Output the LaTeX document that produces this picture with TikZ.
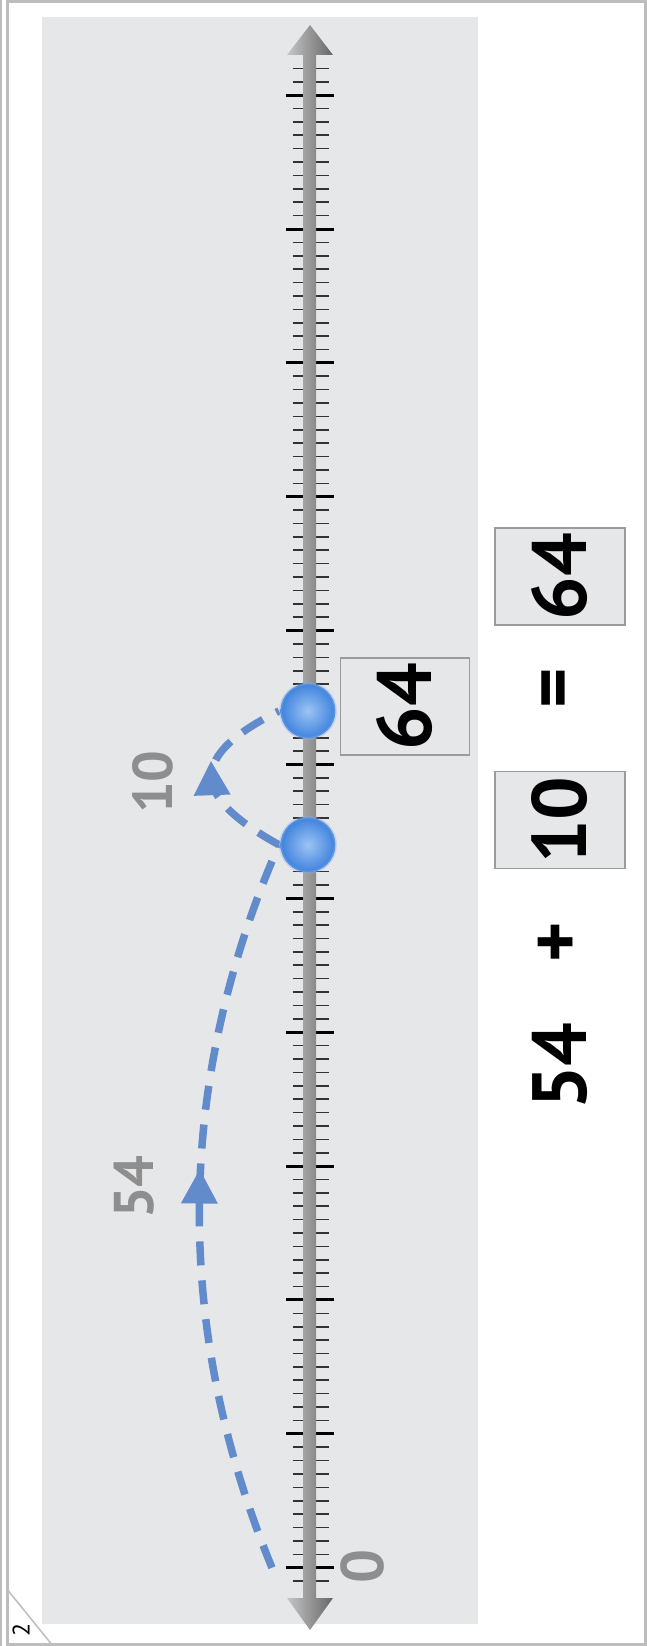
\documentclass[tikz,border=0pt]{standalone}
\usepackage{fontspec}
\setmainfont{PT Sans}
\usetikzlibrary{arrows.meta,decorations.markings,backgrounds}

\definecolor{bggrey}{HTML}{E6E7E9}
\definecolor{framegrey}{HTML}{BDBDBD}
\definecolor{boxgrey}{HTML}{9B9B9B}
\definecolor{labelgrey}{HTML}{8E8E8E}
\definecolor{jumpblue}{HTML}{628BCB}
\definecolor{dotblue}{HTML}{3E82DD}
\definecolor{dotlight}{HTML}{9CC4F4}

\newcommand{\valy}[1]{1567.7-13.387*(#1)}

\begin{document}
\begin{tikzpicture}
		[x=1pt, y=-1pt,
		bignum/.style={rotate=90, font=\fontsize{77}{80}\selectfont\bfseries},
		jumplabel/.style={rotate=90, text=labelgrey, font=\fontsize{56}{60}\selectfont\bfseries},
		numbox/.style={bignum, draw=boxgrey, line width=1.5pt, fill=bggrey,
			minimum width=97pt, minimum height=129pt, inner sep=0pt},
		dot/.style={circle, inner sep=0pt, minimum size=55pt,
			inner color=dotlight, outer color=dotblue,
			draw=dotblue!60, line width=3pt, draw opacity=0.35},
		tick/.style={draw=black!80, line width=1.6pt},
		majortick/.style={draw=black, line width=3pt},
		jump/.style={draw=jumpblue, line width=7.5pt, dash pattern=on 24pt off 15pt,
			postaction={decorate, decoration={markings,
				mark=at position 0.5 with {\arrow[xshift=#1]{Triangle[width=37pt,length=34pt,line width=0pt]}}}}}]
		\useasboundingbox (0,0) rectangle (647,1646);
		\begin{pgfonlayer}{background}
			\fill[bggrey] (41.5,16.7) rectangle (477.7,1623.5);
		\end{pgfonlayer}
		\draw[framegrey, line width=3pt] (7.7,2) -- (645,2) -- (645,1644.5) -- (7.7,1644.5) -- cycle;
		\draw[framegrey, line width=2pt] (1.2,0) -- (1.2,1646);
		\draw[framegrey, line width=1.5pt] (7.7,1590) -- (53,1646);
		\node[rotate=90, font=\fontsize{24}{24}\selectfont] (page) at (21,1630) {2};

		\foreach \i in {-1,...,112}
			\draw[tick] (292.7,{\valy{\i}}) -- (328.7,{\valy{\i}});
		\foreach \i in {0,10,...,110}
			\draw[majortick] (286,{\valy{\i}}) -- (334,{\valy{\i}});
		\shade[left color=gray!45, right color=gray!80!black]
			(303,55) -- (287,55) -- (310,25) -- (333,55) -- (316,55) -- (316,1598)
			-- (333,1598) -- (310,1630) -- (287,1598) -- (303,1598) -- cycle;
		\node[jumplabel, font=\fontsize{60}{62}\selectfont\bfseries] (zero) at (362,1566) {0};

		\coordinate (start) at (272,{\valy{0}});
		\node[dot] (dot54) at (308,{\valy{54}}) {};
		\node[dot] (dot64) at (308,{\valy{64}}) {};
		\begin{pgfonlayer}{background}
			\draw[jump=36pt] (start) .. controls (174,1330) and (174,1085) .. (dot54.west);
			\draw[jump=16pt] (dot54.west) .. controls (189,795) and (189,756) .. (dot64.west);
		\end{pgfonlayer}
		\node[jumplabel] (lab54) at (134,1187) {54};
		\node[jumplabel] (lab10) at (153,782) {10};
		\node[numbox] (landing) at (405,706.5) {64};

		\node[numbox, minimum height=130pt] (total) at (560,576.5) {64};
		\node[bignum] (equals) at (561,688) {=};
		\node[numbox, minimum height=130pt] (step10) at (560,820) {10};
		\node[bignum] (plus) at (560,942) {+};
		\node[bignum] (first) at (560,1066) {54};
	\end{tikzpicture}
\end{document}
